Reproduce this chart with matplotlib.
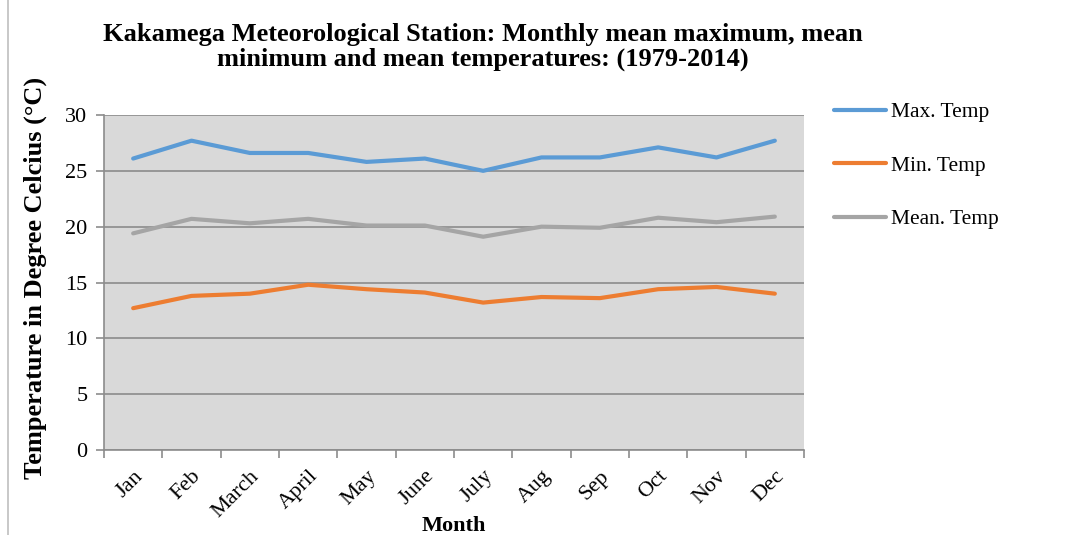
import numpy as np
import matplotlib
matplotlib.use("Agg")
import matplotlib.pyplot as plt
from matplotlib.lines import Line2D

months = ["Jan", "Feb", "March", "April", "May", "June",
          "July", "Aug", "Sep", "Oct", "Nov", "Dec"]
max_temp = [26.1, 27.7, 26.6, 26.6, 25.8, 26.1, 25.0, 26.2, 26.2, 27.1, 26.2, 27.7]
min_temp = [12.7, 13.8, 14.0, 14.8, 14.4, 14.1, 13.2, 13.7, 13.6, 14.4, 14.6, 14.0]
mean_temp = [19.4, 20.7, 20.3, 20.7, 20.1, 20.1, 19.1, 20.0, 19.9, 20.8, 20.4, 20.9]
yticks = [0, 5, 10, 15, 20, 25, 30]

plt.rcParams['font.family'] = ['Liberation Serif', 'DejaVu Serif']

fig = plt.figure(figsize=(10.8, 5.35), dpi=100)
ax = fig.add_axes([104 / 1080, 1 - 450 / 535, 700 / 1080, 335 / 535])
ax.set_facecolor("#D9D9D9")

x = np.arange(len(months))
ax.plot(x, max_temp, color="#5B9BD5", lw=3, solid_capstyle="round", label="Max. Temp")
ax.plot(x, min_temp, color="#ED7D31", lw=3, solid_capstyle="round", label="Min. Temp")
ax.plot(x, mean_temp, color="#A5A5A5", lw=3, solid_capstyle="round", label="Mean. Temp")

ax.set_xlim(-0.5, len(months) - 0.5)
ax.set_ylim(0, 30)
ax.set_yticks(yticks)
ax.yaxis.grid(True, color="#8C8C8C", lw=1.2)
ax.set_axisbelow(True)

# category boundaries get the tick marks, labels sit in the middle
ax.set_xticks(np.arange(-0.5, len(months), 1.0))
ax.set_xticklabels([])
ax.set_xticks(x, minor=True)
ax.set_xticklabels(months, minor=True, rotation=45, ha="right", va="top",
                   rotation_mode="anchor", fontsize=16)
ax.tick_params(axis="x", which="minor", length=0, pad=12)
ax.tick_params(axis="x", which="major", length=6, color="#8C8C8C", width=1.2)
ax.tick_params(axis="y", length=6, color="#8C8C8C", width=1.2, labelsize=16, pad=6)

for s in ["top", "right"]:
    ax.spines[s].set_visible(False)
for s in ["left", "bottom"]:
    ax.spines[s].set_color("#8C8C8C")
    ax.spines[s].set_linewidth(1.2)

fig.text(454 / 1080, 1 - 526 / 535, "Month", ha="center", va="center",
         fontsize=16, fontweight="bold")
fig.text(35 / 1080, 1 - 278 / 535, "Temperature in Degree Celcius (\u00b0C)",
         ha="center", va="center", rotation=90, fontsize=19, fontweight="bold")

fig.text(483 / 1080, 1 - 47 / 535,
         "Kakamega Meteorological Station: Monthly mean maximum, mean\n"
         "minimum and mean temperatures: (1979-2014)",
         ha="center", va="center", fontsize=19, fontweight="bold", linespacing=1.1)

leg = ax.legend(loc="upper left", bbox_to_anchor=(815 / 1080, 1 - 83 / 535),
                bbox_transform=fig.transFigure, frameon=False, fontsize=15.5,
                handlelength=2.4, handletextpad=0.25, labelspacing=1.55)

fig.add_artist(Line2D([8 / 1080, 8 / 1080], [0, 1], color="#BFBFBF", lw=1.2))

fig.savefig("out.png", dpi=100)
